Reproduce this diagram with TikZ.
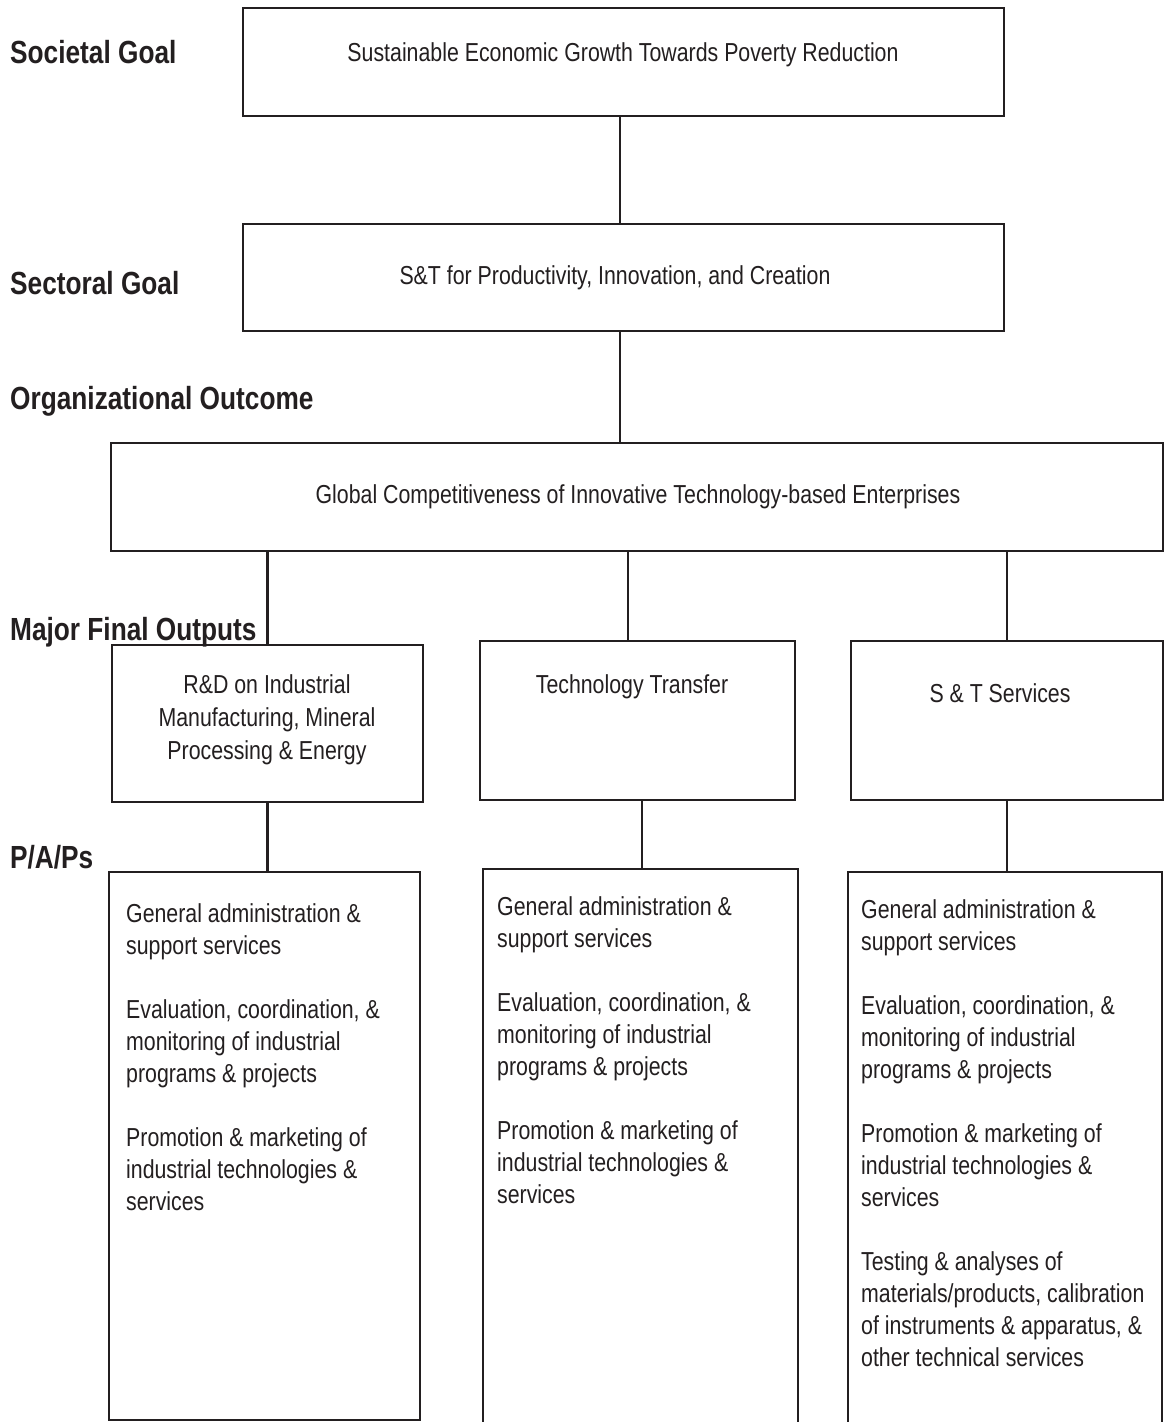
\documentclass[tikz,border=0pt]{standalone}
\usepackage{fontspec}
\setmainfont{Liberation Sans}[FakeStretch=0.82]
\definecolor{ink}{RGB}{35,31,32}
\begin{document}
\begin{tikzpicture}[x=1pt,y=-1pt,
  box/.style={draw=ink, line width=2.8pt, inner sep=0pt, outer sep=0pt, anchor=north west},
  lbl/.style={font=\bfseries\fontsize{32}{38}\selectfont, text=ink, anchor=base west, inner sep=0pt},
  txt/.style={font=\fontsize{26}{32}\selectfont, text=ink, inner sep=0pt},
  link/.style={draw=ink, line width=2.5pt}]
\clip (0,0) rectangle (1165,1422);
\fill[white] (0,0) rectangle (1165,1422);

% level labels
\node[lbl] (lsoc) at (10,63) {Societal Goal};
\node[lbl] (lsec) at (10,294) {Sectoral Goal};
\node[lbl] (lorg) at (10,409) {Organizational Outcome};
\node[lbl] (lmfo) at (10,640) {Major Final Outputs};
\node[lbl] (lpap) at (10,868) {P/A/Ps};

% boxes
\node[box, minimum width=761, minimum height=108] (b1) at (243,8) {};
\node[box, minimum width=761, minimum height=107] (b2) at (243,224) {};
\node[box, minimum width=1052, minimum height=108] (b3) at (111,443) {};
\node[box, minimum width=311, minimum height=157] (b4a) at (112,645) {};
\node[box, minimum width=315, minimum height=159] (b4b) at (480,641) {};
\node[box, minimum width=312, minimum height=159] (b4c) at (851,641) {};
\node[box, minimum width=311, minimum height=548] (b5a) at (109,872) {};
\node[box, minimum width=315, minimum height=580] (b5b) at (483,869) {};
\node[box, minimum width=314, minimum height=580] (b5c) at (848,872) {};

% box texts
\node[txt, anchor=base] (t1) at (623,61) {Sustainable Economic Growth Towards Poverty Reduction};
\node[txt, anchor=base] (t2) at (615,284) {S\&T for Productivity, Innovation, and Creation};
\node[txt, anchor=base] (t3) at (638,503) {Global Competitiveness of Innovative Technology-based Enterprises};
\node[txt, font=\fontsize{26}{33}\selectfont, align=center, anchor=north] (t4a) at (267,674)
  {R\&D on Industrial\\ Manufacturing, Mineral\\ Processing \& Energy};
\node[txt, anchor=base] (t4b) at (632,693) {Technology Transfer};
\node[txt, anchor=base] (t4c) at (1000,702) {S \& T Services};

\node[txt, align=left, anchor=north west] (t5a) at (126,903)
  {General administration \&\\ support services\\[32pt]
   Evaluation, coordination, \&\\ monitoring of industrial\\ programs \& projects\\[32pt]
   Promotion \& marketing of\\ industrial technologies \&\\ services};
\node[txt, align=left, anchor=north west] (t5b) at (497,896)
  {General administration \&\\ support services\\[32pt]
   Evaluation, coordination, \&\\ monitoring of industrial\\ programs \& projects\\[32pt]
   Promotion \& marketing of\\ industrial technologies \&\\ services};
\node[txt, align=left, anchor=north west] (t5c) at (861,899)
  {General administration \&\\ support services\\[32pt]
   Evaluation, coordination, \&\\ monitoring of industrial\\ programs \& projects\\[32pt]
   Promotion \& marketing of\\ industrial technologies \&\\ services\\[32pt]
   Testing \& analyses of\\ materials/products, calibration\\ of instruments \& apparatus, \&\\ other technical services};

% connectors
\coordinate (xa) at (620,0);
\coordinate (xb) at (628,0);
\coordinate (xc) at (642,0);
\draw[link] (b1.south -| xa) -- (b2.north -| xa);
\draw[link] (b2.south -| xa) -- (b3.north -| xa);
\draw[link] (b3.south -| b4a.north) -- (b4a.north);
\draw[link] (b3.south -| xb) -- (b4b.north -| xb);
\draw[link] (b3.south -| b4c.north) -- (b4c.north);
\draw[link] (b4a.south) -- (b5a.north -| b4a.south);
\draw[link] (b4b.south -| xc) -- (b5b.north -| xc);
\draw[link] (b4c.south) -- (b5c.north -| b4c.south);
\end{tikzpicture}
\end{document}
